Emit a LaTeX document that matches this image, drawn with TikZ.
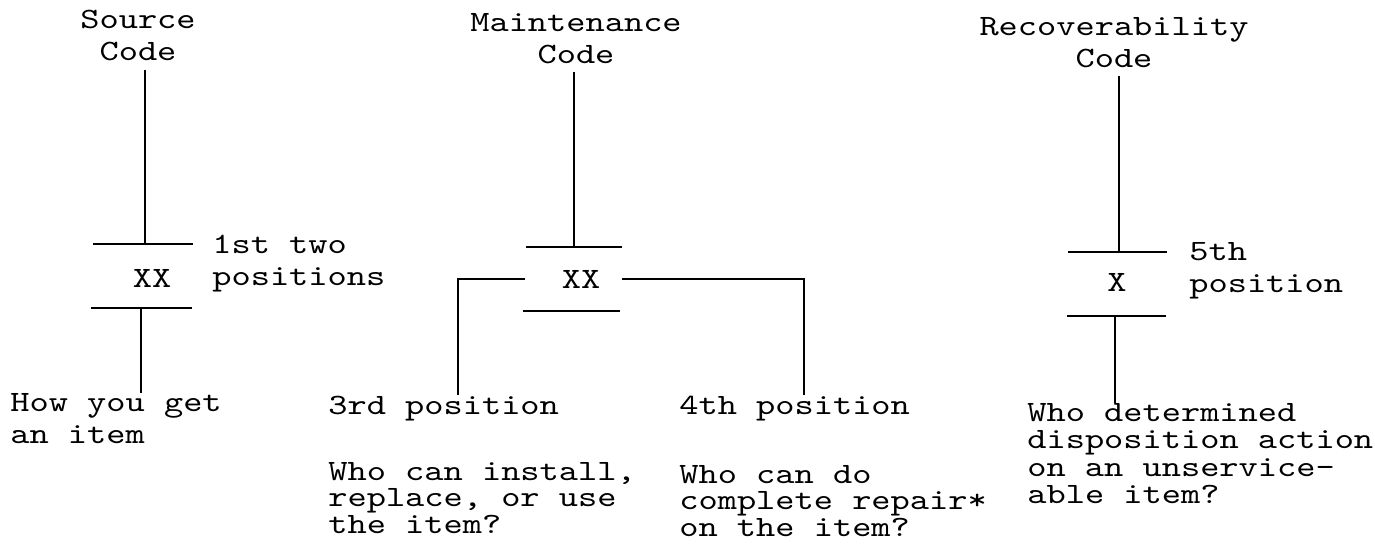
\documentclass[tikz,border=0pt]{standalone}
\usepackage{fontspec}
\newfontfamily\typewriter{lmmono10-regular.otf}[FakeStretch=1.24]
\usetikzlibrary{positioning}
\begin{document}
\begin{tikzpicture}[x=0.02cm, y=-0.02cm,
            txt/.style={inner sep=0pt, font=\typewriter\fontsize{16.8pt}{18.2pt}\selectfont},
            tight/.style={txt, font=\typewriter\fontsize{16.8pt}{15.1pt}\selectfont},
            title/.style={txt, align=center, anchor=north, outer ysep=0.18cm},
            wire/.style={line width=1.1pt}
        ]
        \useasboundingbox (0,0) rectangle (1375,551);
        % --- Source code ---
        \node[title] (srcT) at (138,1) {Source\\Code};
        \coordinate (srcA) at (145,244);
        \coordinate (srcB) at (141,308);
        \node[txt, anchor=base] (srcX) at (152,287) {XX};
        \node[txt, align=left, anchor=north west] (srcP) at (212,235) {1st two\\positions};
        \node[txt, align=left, anchor=north west] (srcD) at (10,393) {How you get\\an item};
        \draw[wire] (93,244) -- (193,244);
        \draw[wire] (91,308) -- (192,308);
        \draw[wire] (srcT.south -| srcA) -- (srcA);
        \draw[wire] (srcB) -- (srcD.north -| srcB);
        % --- Maintenance code ---
        \node[title] (mntT) at (576,4) {Maintenance\\Code};
        \coordinate (mntA) at (574,247);
        \coordinate (mntL) at (525,279);
        \coordinate (mntR) at (622,279);
        \node[txt, anchor=base] (mntX) at (581,288) {XX};
        \node[txt, anchor=base west] (mnt3) at (328,414) {3rd position};
        \node[txt, anchor=base west] (mnt4) at (679,414) {4th position};
        \node[tight, align=left, anchor=north west] (mnt3D) at (328,462) {Who can install,\\replace, or use\\the item?};
        \node[tight, align=left, anchor=north west] (mnt4D) at (679,465) {Who can do\\complete repair*\\on the item?};
        \draw[wire] (526,247) -- (622,247);
        \draw[wire] (523,311) -- (620,311);
        \draw[wire] (mntT.south -| mntA) -- (mntA);
        \draw[wire] (mntL) -| ([xshift=0.28cm]mnt3.north);
        \draw[wire] (mntR) -| ([xshift=0.18cm]mnt4.north);
        % --- Recoverability code ---
        \node[title] (recT) at (1114,8) {Recoverability\\Code};
        \coordinate (recA) at (1119,252);
        \coordinate (recB) at (1115,316);
        \node[txt, anchor=base] (recX) at (1117,291) {X};
        \node[txt, align=left, anchor=north west] (recP) at (1189,242) {5th\\position};
        \node[txt, align=left, anchor=north west, font=\typewriter\fontsize{16.8pt}{15.6pt}\selectfont] (recD) at (1027,403) {Who determined\\disposition action\\on an unservice-\\able item?};
        \draw[wire] (1068,252) -- (1167,252);
        \draw[wire] (1067,316) -- (1166,316);
        \draw[wire] (recT.south -| recA) -- (recA);
        \draw[wire] (recB) -- (recD.north -| recB);
\end{tikzpicture}
\end{document}
